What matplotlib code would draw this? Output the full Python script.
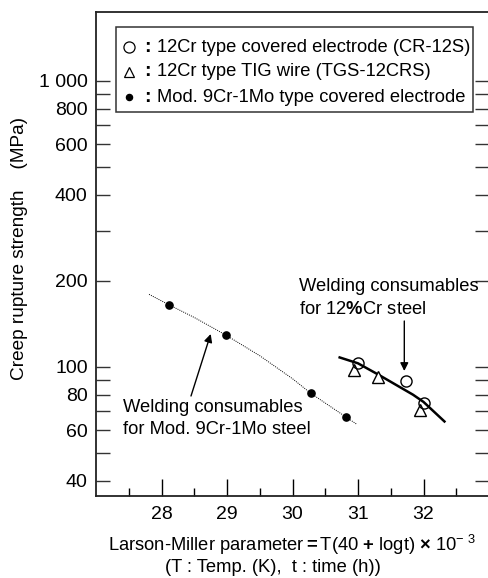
import numpy as np
import matplotlib
matplotlib.use('Agg')
import matplotlib.pyplot as plt
from matplotlib.ticker import FixedLocator, NullFormatter

plt.rcParams['font.family'] = ['Liberation Sans', 'DejaVu Sans']
plt.rcParams['mathtext.fontset'] = 'custom'
plt.rcParams['mathtext.rm'] = 'Liberation Sans'
plt.rcParams['mathtext.bf'] = 'Liberation Sans:bold'
plt.rcParams['mathtext.it'] = 'Liberation Sans'

# ---- data ----
# Mod. 9Cr-1Mo covered electrode (filled dots)
mod9_lmp = [28.12, 28.98, 30.28, 30.81]
mod9_mpa = [164.7, 129.4, 80.9, 67.0]
# dotted trend for Mod. 9Cr-1Mo
mod9_curve_lmp = [27.81, 28.12, 28.5, 28.98, 29.5, 30.0, 30.28, 30.81, 30.98]
mod9_curve_mpa = [179.5, 164.7, 149.0, 129.4, 109.5, 91.0, 80.9, 67.0, 63.1]

# 12Cr covered electrode CR-12S (open circles)
cr12s_lmp = [31.0, 31.73, 32.0]
cr12s_mpa = [103.0, 89.5, 74.7]
# 12Cr TIG wire TGS-12CRS (open triangles)
tgs_lmp = [30.94, 31.31, 31.95]
tgs_mpa = [97.6, 92.5, 70.7]
# solid trend for 12 %Cr
cr12_curve_lmp = [30.72, 31.0, 31.33, 31.84, 32.0, 32.32]
cr12_curve_mpa = [108.0, 103.0, 93.5, 80.0, 75.5, 64.5]

y_major = [40, 60, 80, 100, 200, 400, 600, 800, 1000]
y_major_labels = ['40', '60', '80', '100', '200', '400', '600', '800', '1 000']
y_minor = [50, 70, 90, 300, 500, 700, 900]
x_major = [28, 29, 30, 31, 32]
x_minor = [27.5, 28.5, 29.5, 30.5, 31.5, 32.5]

W, H = 488, 578
FS = 13.2


def fx(px):
    return px / W


def fy(py):
    return 1 - py / H


fig = plt.figure(figsize=(W / 100, H / 100), dpi=100)
ax = fig.add_axes([fx(96), fy(496), fx(489) - fx(96), fy(12) - fy(496)])

ax.set_yscale('log')
ax.set_xlim(27.0, 33.0)
ax.set_ylim(35.4, 1742)

# curves
ax.plot(mod9_curve_lmp, mod9_curve_mpa, color='black', linestyle=(0, (1, 1.2)),
        linewidth=0.7)
ax.plot(cr12_curve_lmp, cr12_curve_mpa, color='black', linewidth=1.8)

# points
ax.plot(mod9_lmp, mod9_mpa, 'o', color='black', markersize=5.2, linestyle='none')
ax.plot(tgs_lmp, tgs_mpa, '^', markerfacecolor='white', markeredgecolor='black',
        markersize=8, markeredgewidth=1.0, linestyle='none')
ax.plot(cr12s_lmp, cr12s_mpa, 'o', markerfacecolor='none', markeredgecolor='black',
        markersize=8, markeredgewidth=1.0, linestyle='none')

# ticks
ax.yaxis.set_major_locator(FixedLocator(y_major))
ax.yaxis.set_minor_locator(FixedLocator(y_minor))
ax.set_yticklabels(y_major_labels)
ax.yaxis.set_minor_formatter(NullFormatter())
ax.xaxis.set_major_locator(FixedLocator(x_major))
ax.xaxis.set_minor_locator(FixedLocator(x_minor))
ax.tick_params(axis='y', which='both', direction='in', length=10, width=1.0,
               right=True, labelsize=14, pad=6, color='#333333')
ax.tick_params(axis='x', which='major', direction='in', length=12, width=1.0,
               labelsize=14, pad=7)
ax.tick_params(axis='x', which='minor', direction='in', length=6, width=1.0)
for s in ax.spines.values():
    s.set_linewidth(1.3)
    s.set_color('#222222')

# legend box drawn by hand
bx0, by0, bx1, by1 = 116, 27, 473, 112
fig.patches.append(plt.Rectangle((fx(bx0), fy(by1)), fx(bx1) - fx(bx0), fy(by0) - fy(by1),
                                 transform=fig.transFigure, fill=False,
                                 edgecolor='#333333', linewidth=1.1))
rows = [47, 72, 97]
labels = ['12Cr type covered electrode (CR-12S)',
          '12Cr type TIG wire (TGS-12CRS)',
          'Mod. 9Cr-1Mo type covered electrode']
styles = [dict(marker='o', markerfacecolor='none', markersize=8),
          dict(marker='^', markerfacecolor='none', markersize=7),
          dict(marker='o', markerfacecolor='black', markersize=4.5)]
for ry, lab, st in zip(rows, labels, styles):
    fig.lines.append(plt.Line2D([fx(129)], [fy(ry)], transform=fig.transFigure,
                                color='black', markeredgewidth=0.9, linestyle='none', **st))
    fig.text(fx(147), fy(ry), ':', fontsize=14, fontweight='bold',
             ha='center', va='center')
    fig.text(fx(157), fy(ry), lab, fontsize=FS, ha='left', va='center')

# annotations
fig.text(fx(123), fy(407), 'Welding consumables', fontsize=FS, ha='left', va='center')
fig.text(fx(123), fy(430), 'for Mod. 9Cr-1Mo steel', fontsize=FS, ha='left', va='center')
fig.text(fx(299), fy(287), 'Welding consumables', fontsize=FS, ha='left', va='center')
fig.text(fx(299), fy(310), r'for 12$\mathbf{\%}$Cr steel', fontsize=FS,
         ha='left', va='center')
ax.annotate('', xy=(fx(210.7), fy(334)), xytext=(fx(191), fy(396)),
            xycoords='figure fraction', textcoords='figure fraction',
            arrowprops=dict(arrowstyle='-|>', color='black', lw=1.0,
                            mutation_scale=12, shrinkA=0, shrinkB=0))
ax.annotate('', xy=(fx(404.3), fy(371)), xytext=(fx(404.3), fy(321)),
            xycoords='figure fraction', textcoords='figure fraction',
            arrowprops=dict(arrowstyle='-|>', color='black', lw=1.0,
                            mutation_scale=12, shrinkA=0, shrinkB=0))

# axis labels
fig.text(fx(20), fy(248), 'Creep rupture strength    (MPa)', fontsize=13.7,
         rotation=90, ha='center', va='center')
fig.text(fx(292), fy(545),
         r'Larson-Miller parameter$\mathbf{=}$T(40 $\mathbf{+}$ logt) $\mathbf{\times}$ 10$^{\mathrm{-\ 3}}$',
         fontsize=FS, ha='center', va='center')
fig.text(fx(273), fy(568), '(T : Temp. (K),  t : time (h))', fontsize=FS,
         ha='center', va='center')

fig.savefig('out.png', dpi=100)
